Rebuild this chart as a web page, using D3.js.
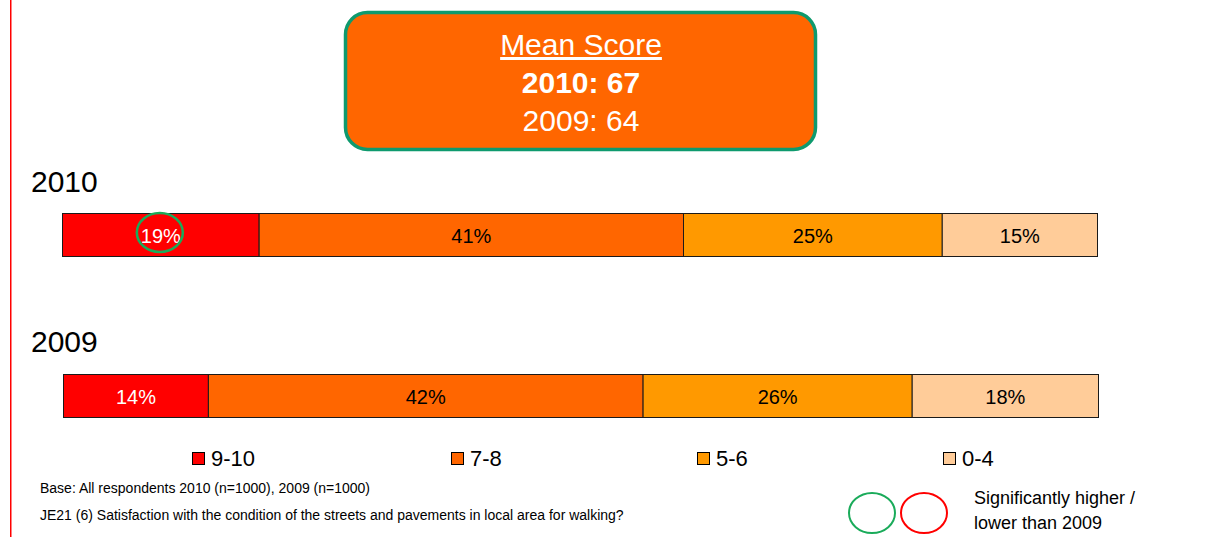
<!DOCTYPE html>
<html>
<head>
<meta charset="utf-8">
<script src="https://d3js.org/d3.v7.min.js"></script>
<style>
  body { margin: 0; background: #fff; }
  svg { display: block; font-family: "Liberation Sans", Arial, sans-serif; }
</style>
</head>
<body>
<script>
// chart data
const years = ["2010", "2009"];
const categories = ["9-10", "7-8", "5-6", "0-4"];
const values2010 = [19, 41, 25, 15];
const values2009 = [14, 42, 26, 18];
const colors = ["#FF0000", "#FF6600", "#FF9900", "#FFCC99"];
const labelColors = ["#fff", "#000", "#000", "#000"];
const meanScores = [67, 64];
const sigHigher2010 = ["9-10"];   // circled green in 2010 bar
const baseNote = "Base: All respondents 2010 (n=1000), 2009 (n=1000)";
const questionNote = "JE21 (6) Satisfaction with the condition of the streets and pavements in local area for walking?";

const W = 1216, H = 537;
const svg = d3.select("body").append("svg").attr("width", W).attr("height", H);

// red margin line at left
svg.append("rect")
  .attr("x", 10).attr("y", 0).attr("width", 1.5).attr("height", H)
  .attr("fill", "#FF0000");

// mean score box
const box = svg.append("g");
box.append("rect")
  .attr("x", 345.5).attr("y", 12.5).attr("width", 470).attr("height", 137)
  .attr("rx", 22).attr("fill", "#FF6600")
  .attr("stroke", "#0E9A6E").attr("stroke-width", 3.5);
box.append("text").attr("x", 581).attr("y", 55).attr("text-anchor", "middle")
  .attr("font-size", 30).attr("fill", "#fff").attr("text-decoration", "underline")
  .text("Mean Score");
box.append("text").attr("x", 581).attr("y", 93).attr("text-anchor", "middle")
  .attr("font-size", 30).attr("font-weight", "bold").attr("fill", "#fff")
  .text(years[0] + ": " + meanScores[0]);
box.append("text").attr("x", 581).attr("y", 131).attr("text-anchor", "middle")
  .attr("font-size", 30).attr("fill", "#fff")
  .text(years[1] + ": " + meanScores[1]);

// bars
const x = d3.scaleLinear().domain([0, 100]).range([62.5, 1097.5]);
const rows = [
  { year: years[0], values: values2010, y: 213.5, shift: 0, labelY: 192, sig: sigHigher2010 },
  { year: years[1], values: values2009, y: 374.5, shift: 1, labelY: 352, sig: [] }
];
const barH = 43;

rows.forEach(row => {
  svg.append("text").attr("x", 31).attr("y", row.labelY)
    .attr("font-size", 30).attr("fill", "#000").text(row.year);

  let acc = 0;
  const segs = row.values.map((v, i) => {
    const s = { cat: categories[i], v: v, start: acc, i: i };
    acc += v;
    return s;
  });

  const g = svg.append("g").attr("transform", "translate(" + row.shift + ",0)");
  g.selectAll("rect").data(segs).enter().append("rect")
    .attr("x", d => x(d.start))
    .attr("y", row.y)
    .attr("width", d => x(d.start + d.v) - x(d.start))
    .attr("height", barH)
    .attr("fill", d => colors[d.i])
    .attr("stroke", "#1a1a1a").attr("stroke-width", 1);

  g.selectAll("text").data(segs).enter().append("text")
    .attr("x", d => (x(d.start) + x(d.start + d.v)) / 2)
    .attr("y", row.y + 29)
    .attr("text-anchor", "middle")
    .attr("font-size", 20)
    .attr("fill", d => labelColors[d.i])
    .text(d => d.v + "%");

  g.selectAll("ellipse").data(segs.filter(d => row.sig.includes(d.cat))).enter().append("ellipse")
    .attr("cx", d => (x(d.start) + x(d.start + d.v)) / 2 - 1)
    .attr("cy", row.y + 19)
    .attr("rx", 23).attr("ry", 19.5)
    .attr("fill", "none").attr("stroke", "#1AAB5A").attr("stroke-width", 2.5);
});

// legend (item positions as laid out in the original)
const legendX = [192, 451, 697, 943];
const leg = svg.append("g");
categories.forEach((c, i) => {
  leg.append("rect").attr("x", legendX[i] + 0.5).attr("y", 452.5).attr("width", 12).attr("height", 12)
    .attr("fill", colors[i]).attr("stroke", "#000").attr("stroke-width", 1);
  leg.append("text").attr("x", legendX[i] + 19).attr("y", 466)
    .attr("font-size", 22).attr("fill", "#000").text(c);
});

// footnotes
svg.append("text").attr("x", 40).attr("y", 493).attr("font-size", 14)
  .attr("fill", "#000").text(baseNote);
svg.append("text").attr("x", 40).attr("y", 520).attr("font-size", 14)
  .attr("fill", "#000").text(questionNote);

// significance key
svg.append("ellipse").attr("cx", 872).attr("cy", 513).attr("rx", 23).attr("ry", 20)
  .attr("fill", "none").attr("stroke", "#1AAB5A").attr("stroke-width", 2);
svg.append("ellipse").attr("cx", 924).attr("cy", 513).attr("rx", 23).attr("ry", 20)
  .attr("fill", "none").attr("stroke", "#FF0000").attr("stroke-width", 2);
svg.append("text").attr("x", 974).attr("y", 504).attr("font-size", 18)
  .attr("fill", "#000").text("Significantly higher /");
svg.append("text").attr("x", 974).attr("y", 529).attr("font-size", 18)
  .attr("fill", "#000").text("lower than " + years[1]);
</script>
</body>
</html>
